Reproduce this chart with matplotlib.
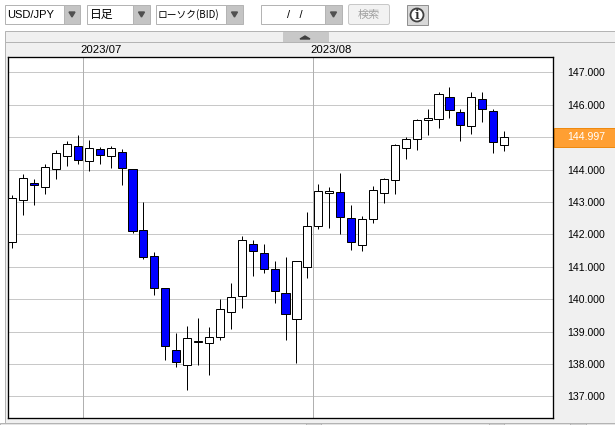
"""USD/JPY daily candles with the trading screen toolbar around them."""

import matplotlib

matplotlib.use("Agg")
import matplotlib.patches as mpatches
import matplotlib.pyplot as plt

JP_FONT = ["Noto Sans CJK JP", "DejaVu Sans"]
NUM_FONT = "Liberation Sans"

opens = [
    141.75, 143.05, 143.57, 143.45, 144.01, 144.41, 144.72, 144.25, 144.62, 144.41,
    144.53, 144.01, 142.12, 141.32, 140.33, 138.42, 137.96, 138.67, 138.64, 138.82,
    139.59, 140.09, 141.69, 141.41, 140.92, 140.18, 139.38, 140.98, 142.25, 143.27,
    143.30, 142.49, 141.66, 142.46, 143.27, 143.67, 144.65, 144.93, 145.52, 145.55,
    146.23, 145.77, 145.33, 146.17, 145.80, 144.75,
]
highs = [
    143.21, 143.86, 143.70, 144.17, 144.59, 144.87, 145.06, 144.91, 144.69, 144.72,
    144.63, 144.01, 143.00, 141.44, 140.33, 138.94, 139.16, 139.41, 139.13, 139.99,
    140.49, 141.95, 141.82, 141.70, 141.17, 141.29, 141.17, 142.69, 143.54, 143.45,
    143.88, 142.90, 142.56, 143.48, 143.73, 144.78, 145.00, 145.55, 145.86, 146.38,
    146.55, 145.86, 146.38, 146.38, 145.86, 145.18,
]
lows = [
    141.59, 142.60, 142.91, 143.25, 143.71, 144.12, 144.18, 143.96, 144.18, 144.06,
    143.53, 142.04, 141.25, 140.14, 138.13, 137.91, 137.20, 137.98, 137.67, 138.75,
    139.09, 139.73, 140.72, 140.81, 139.89, 138.75, 138.04, 140.66, 142.17, 142.20,
    142.02, 141.52, 141.49, 142.36, 142.98, 143.25, 144.33, 144.61, 145.07, 145.29,
    145.60, 144.89, 145.10, 145.48, 144.52, 144.58,
]
closes = [
    143.11, 143.73, 143.51, 144.07, 144.50, 144.78, 144.28, 144.65, 144.44, 144.65,
    144.04, 142.09, 141.29, 140.33, 138.54, 138.05, 138.79, 138.70, 138.82, 139.69,
    140.06, 141.81, 141.48, 140.92, 140.24, 139.53, 141.17, 142.25, 143.33, 143.33,
    142.52, 141.75, 142.46, 143.36, 143.70, 144.75, 144.93, 145.52, 145.58, 146.32,
    145.83, 145.36, 146.23, 145.86, 144.84, 144.99,
]
month_labels = ["2023/07", "2023/08"]
month_pos = [6.5, 27.5]
price_ticks = [147, 146, 145, 144, 143, 142, 141, 140, 139, 138, 137]
price_labels = ["147.000", "146.000", "", "144.000", "143.000", "142.000",
                "141.000", "140.000", "139.000", "138.000", "137.000"]
last_price = 144.997
last_label = "144.997"
symbol_text = "USD/JPY"
period_text = "日足"
type_text = "ローソク(BID)"
date_text = "/   /"
search_text = "検索"

W, H = 615, 425
PANEL = "#f0f0f0"
BORDER = "#b4b4b4"

fig = plt.figure(figsize=(W / 100, H / 100), dpi=100, facecolor="white")

# ── Chrome, drawn in pixel coordinates ───────────────────────────────────────
chrome = fig.add_axes([0, 0, 1, 1])
chrome.set_xlim(0, W)
chrome.set_ylim(H, 0)
chrome.axis("off")


def box(x0, y0, x1, y1, face, edge=BORDER, lw=0.72):
    chrome.add_patch(mpatches.Rectangle((x0, y0), x1 - x0, y1 - y0, facecolor=face,
                                        edgecolor=edge, linewidth=lw))


def combo(x0, x1, btn, label, text_x, font, size):
    box(x0, 4.5, btn, 24, "white")
    box(btn, 4.5, x1, 24, "#c4c4c4")
    chrome.add_patch(mpatches.Polygon([[(btn + x1) / 2 - 3, 12], [(btn + x1) / 2 + 3, 12],
                                       [(btn + x1) / 2, 17]], color="#505050"))
    chrome.text(text_x, 14.5, label, ha="left", va="center", fontsize=size,
                family=font, color="black")


box(4.5, 31, W + 5, H + 5, PANEL)
chrome.plot([4.5, W], [42, 42], color=BORDER, lw=0.72)
box(283, 32, 328, 42, "#c8c8c8", edge="#c8c8c8")
chrome.add_patch(mpatches.Polygon([[300, 39], [310, 39], [305, 36]], color="#404040"))

combo(4.5, 80, 64, symbol_text, 7.5, NUM_FONT, 8)
combo(86.5, 150, 133, period_text, 90, JP_FONT, 8.5)
combo(155.5, 243, 226, type_text, 158, JP_FONT, 7)
combo(260.5, 342, 325, date_text, 287, NUM_FONT, 8)

chrome.add_patch(mpatches.FancyBboxPatch((349, 5), 40, 19, boxstyle="round,pad=0.5,rounding_size=2",
                                         facecolor="#f2f2f2", edgecolor="#c8c8c8", linewidth=0.72))
chrome.text(369, 14.5, search_text, ha="center", va="center", fontsize=8, family=JP_FONT,
            color="#a0a0a0")
box(406.5, 4.5, 427.5, 25, "#d8d8d8", edge="#909090")
chrome.add_patch(mpatches.Circle((417, 15), 6.5, facecolor="white", edgecolor="#404040", linewidth=1.3))
chrome.text(417, 15, "i", ha="center", va="center", fontsize=8.5, family="DejaVu Serif",
            fontweight="bold", color="#303030")

# bottom scrollbar strip
box(0, 422.5, W, H + 5, "#e4e4e4")
box(306, 422.5, 321, H + 5, "#d0d0d0")
box(489, 422.5, 504, H + 5, "#d0d0d0")
box(570, 422.5, 586, H + 5, "#d0d0d0")

# ── Price chart ──────────────────────────────────────────────────────────────
x0, x1, y0, y1 = 8.3, 553.3, 57.3, 418.3
ax = fig.add_axes([x0 / W, 1 - y1 / H, (x1 - x0) / W, (y1 - y0) / H], facecolor="white")
ax.set_xlim(-0.366, 49.5)
ax.set_ylim(136.321, 147.463)

for p in price_ticks:
    ax.axhline(p, color="#c8c8c8", lw=0.72, zorder=1)
for m in month_pos:
    ax.axvline(m, color="#b0b0b0", lw=0.72, zorder=1.5)

days = list(range(len(opens)))
ax.vlines(days, lows, highs, color="black", lw=0.72, zorder=2)
bottoms = [min(o, c) for o, c in zip(opens, closes)]
heights = [abs(c - o) for o, c in zip(opens, closes)]
fills = ["#0000ff" if c < o else "white" for o, c in zip(opens, closes)]
ax.bar(days, heights, bottom=bottoms, width=0.74, color=fills, edgecolor="black",
       linewidth=0.72, zorder=3)

ax.set_xticks([])
ax.yaxis.tick_right()
ax.set_yticks(price_ticks, price_labels, fontsize=7.6, family=NUM_FONT, color="black")
ax.tick_params(axis="y", length=0, pad=10)
for spine in ax.spines.values():
    spine.set_linewidth(0.95)
    spine.set_color("black")

for m, label in zip(month_pos, month_labels):
    ax.annotate(label, (m, 1), xycoords=("data", "axes fraction"), xytext=(-2, 1.5),
                textcoords="offset points", ha="left", va="bottom", fontsize=8.2,
                family=NUM_FONT, color="black", annotation_clip=False)

ax.annotate(last_label, (1, last_price), xycoords=("axes fraction", "data"),
            xytext=(10, 0), textcoords="offset points", ha="left", va="center",
            fontsize=7.6, family=NUM_FONT, color="white", zorder=6, annotation_clip=False)
chrome.add_patch(mpatches.Rectangle((554, 128), 61, 19, facecolor="#ff9f32", edgecolor="#ee8a10",
                                    linewidth=0.72, zorder=5))

fig.savefig("out.png", dpi=100, facecolor="white")
plt.close(fig)
